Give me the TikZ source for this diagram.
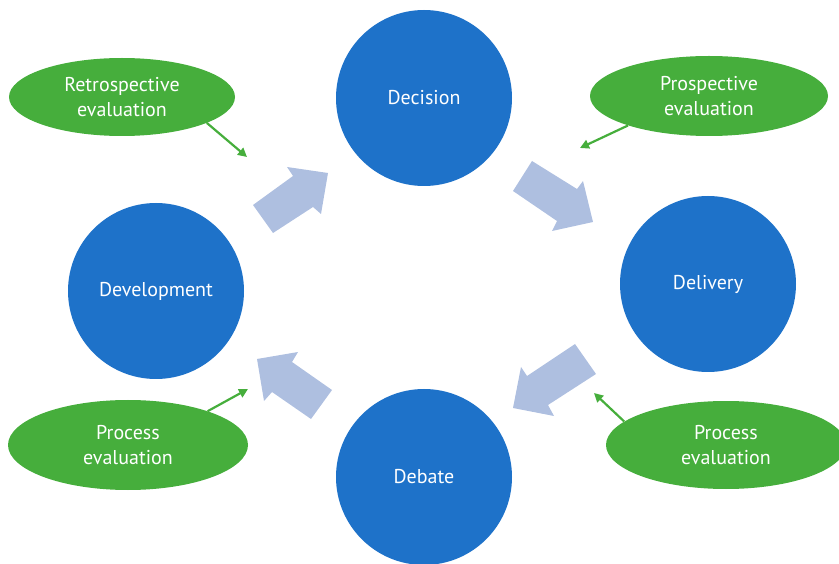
\documentclass[tikz,border=0pt]{standalone}
\usepackage{fontspec}
\setmainfont{PT Sans}
\usetikzlibrary{arrows.meta,shapes.geometric}
\definecolor{phaseblue}{RGB}{30,114,201}
\definecolor{evalgreen}{RGB}{70,174,60}
\definecolor{flowblue}{RGB}{174,191,224}
\tikzset{
	phase/.style={circle, fill=phaseblue, text=white, minimum size=176pt, inner sep=0pt, font=\fontsize{20}{24}\selectfont},
	evaluation/.style={ellipse, fill=evalgreen, text=white, inner sep=0pt, align=center, font=\fontsize{20}{25}\selectfont},
	evalarrow/.style={evalgreen, line width=2.2pt, -{Triangle[length=9pt,width=9pt]}},
	flow/.style={fill=flowblue}
}
\begin{document}
\begin{tikzpicture}[x=1pt, y=-1pt]
		\useasboundingbox (0,0) rectangle (839,564);
		\clip (0,0) rectangle (839,564);
		%phases
		\node[phase] (decision) at (424, 98){Decision};
		\node[phase] (delivery) at (708, 284){Delivery};
		\node[phase] (debate) at (424, 477){Debate};
		\node[phase] (development) at (156, 291){Development};
		
		%big arrows between phases
		\fill[flow] (253,205) -- (293,176) -- (287,167) -- (328,173) -- (321,214) -- (313,207) -- (273,233) -- cycle;
		\fill[flow] (532,161) -- (577,189) -- (583,181) -- (593,222) -- (552,231) -- (557,221) -- (513,191) -- cycle;
		\fill[flow] (575,344) -- (527,376) -- (521,367) -- (513,408) -- (554,416) -- (548,405) -- (596,374) -- cycle;
		\fill[flow] (332,390) -- (292,362) -- (298,352) -- (257,359) -- (264,401) -- (272,392) -- (311,419) -- cycle;
		
		%evaluations
		\node[evaluation, minimum width=226pt, minimum height=78pt] (retro) at (122, 97){Retrospective\\evaluation};
		\node[evaluation, minimum width=238pt, minimum height=80pt] (prosp) at (709, 96){Prospective\\evaluation};
		\node[evaluation, minimum width=240pt, minimum height=90pt] (procleft) at (128, 445){Process\\evaluation};
		\node[evaluation, minimum width=240pt, minimum height=88pt] (procright) at (726, 445){Process\\evaluation};
		
		\coordinate (retroend) at (247, 157);
		\coordinate (prospend) at (580, 148);
		\coordinate (procleftend) at (248, 389);
		\coordinate (procrightend) at (594, 393);
		\draw[evalarrow] (retro.-17) -- (retroend);
		\draw[evalarrow] (prosp.200) -- (prospend);
		\draw[evalarrow] (procleft.23) -- (procleftend);
		\draw[evalarrow] (procright.167) -- (procrightend);
		\end{tikzpicture}
\end{document}
